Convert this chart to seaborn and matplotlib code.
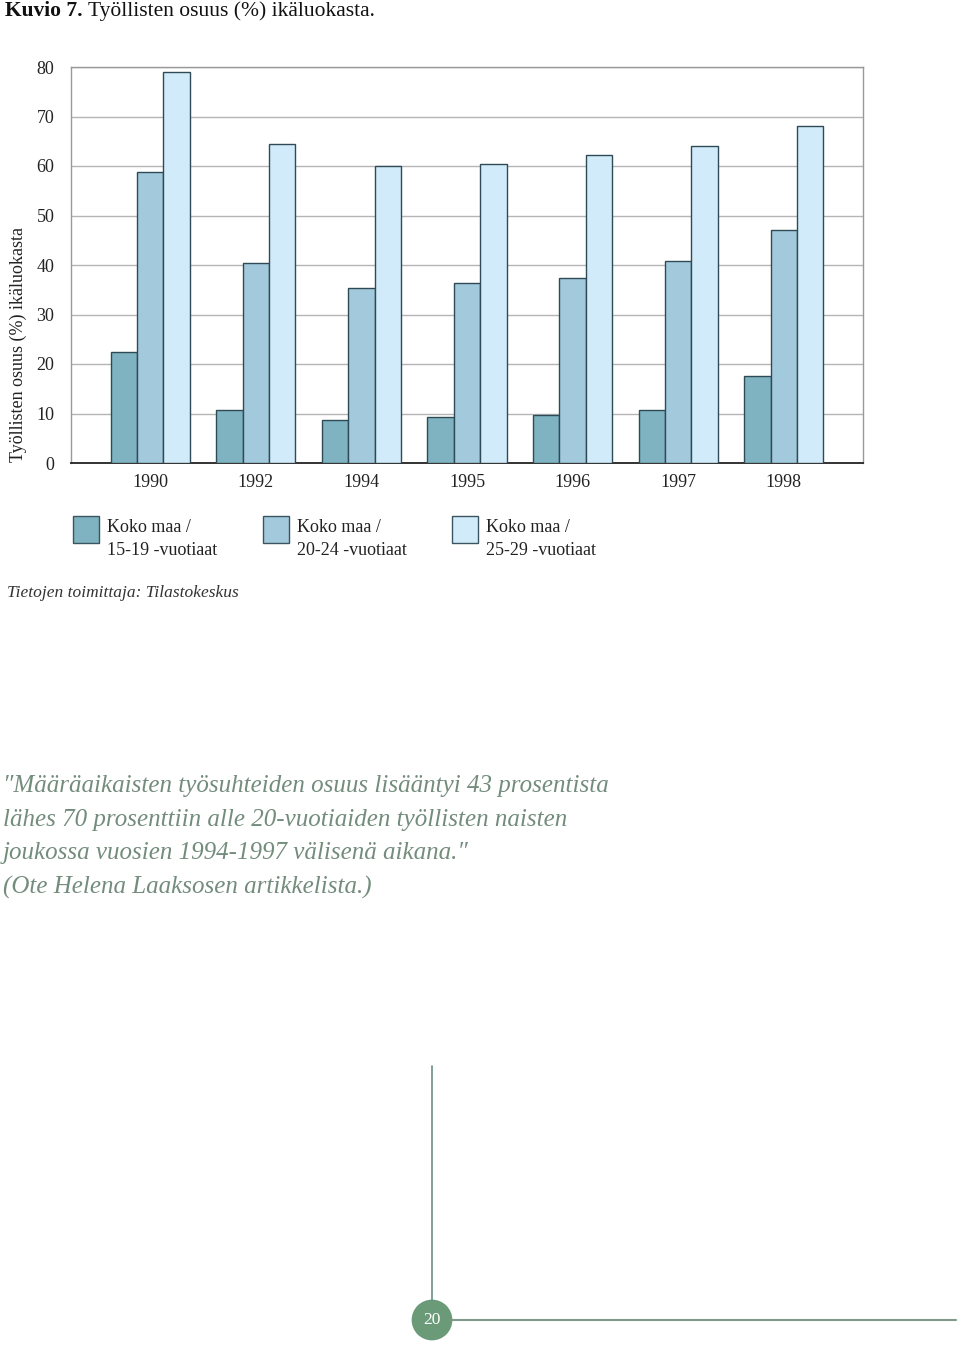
import matplotlib
matplotlib.use("Agg")
import matplotlib.pyplot as plt
import seaborn as sns
import pandas as pd
from matplotlib.patches import Rectangle, Circle
from matplotlib.lines import Line2D

years = ["1990", "1992", "1994", "1995", "1996", "1997", "1998"]
groups = ["Koko maa /\n15-19 -vuotiaat", "Koko maa /\n20-24 -vuotiaat", "Koko maa /\n25-29 -vuotiaat"]
age_15_19 = [22.5, 10.8, 8.6, 9.3, 9.7, 10.7, 17.5]
age_20_24 = [58.7, 40.5, 35.4, 36.4, 37.4, 40.8, 47.0]
age_25_29 = [78.9, 64.4, 59.9, 60.5, 62.2, 64.1, 68.0]
colors = ["#7fb3c1", "#a3c9dc", "#d1ebfa"]

rows = []
for g, vals in zip(groups, [age_15_19, age_20_24, age_25_29]):
    for y, v in zip(years, vals):
        rows.append({"year": y, "group": g, "value": v})
df = pd.DataFrame(rows)

sns.set_theme(style="white")
plt.rcParams["font.family"] = ["Liberation Serif", "DejaVu Serif"]

W, H = 960, 1346
fig = plt.figure(figsize=(9.6, 13.46), dpi=100)
ax = fig.add_axes([71 / W, 1 - 463 / H, (863 - 71) / W, (463 - 67) / H])

sns.barplot(data=df, x="year", y="value", hue="group", palette=colors,
            width=0.75, edgecolor="#2e4a55", linewidth=1.0, ax=ax,
            legend=False, saturation=1, zorder=3)

ax.set_xlim(-0.75, 6.75)
ax.set_ylim(0, 80)
ax.set_yticks(range(0, 81, 10))
ax.yaxis.grid(True, color="#b5b5b5", linewidth=1.0, zorder=0)
ax.set_axisbelow(True)
ax.set_xlabel("")
ax.set_ylabel("")
ax.tick_params(axis="y", length=0, pad=12, labelsize=13, colors="#222222")
ax.tick_params(axis="x", length=0, pad=8, labelsize=13, colors="#222222")
for s in ["top", "right", "left"]:
    ax.spines[s].set_color("#999999")
    ax.spines[s].set_linewidth(1.0)
ax.spines["bottom"].set_color("#222222")
ax.spines["bottom"].set_linewidth(1.3)

# Title
fig.text(5 / W, 1 - 11 / H, "Kuvio 7.", fontsize=15.5, fontweight="bold",
         va="center", ha="left", color="#111111")
fig.text(88 / W, 1 - 11 / H, "Työllisten osuus (%) ikäluokasta.", fontsize=15.5,
         va="center", ha="left", color="#111111")

# y label
fig.text(18 / W, 1 - 344 / H, "Työllisten osuus (%) ikäluokasta", rotation=90,
         fontsize=13, va="center", ha="center", color="#222222")

# Legend
leg_x = [73, 263, 452]
for x0, c, g in zip(leg_x, colors, groups):
    fig.patches.append(Rectangle((x0 / W, 1 - 543 / H), 26 / W, 27 / H,
                                 transform=fig.transFigure, facecolor=c,
                                 edgecolor="#3a5560", linewidth=1.0))
    fig.text((x0 + 34) / W, 1 - 539 / H, g, fontsize=13, va="center",
             ha="left", linespacing=1.45, color="#222222")

# Source
fig.text(7 / W, 1 - 593 / H, "Tietojen toimittaja: Tilastokeskus", fontsize=12.5,
         style="italic", va="center", ha="left", color="#333333")

# Quote
quote = ["\u2033Määräaikaisten työsuhteiden osuus lisääntyi 43 prosentista",
         "lähes 70 prosenttiin alle 20-vuotiaiden työllisten naisten",
         "joukossa vuosien 1994-1997 välisenä aikana.\u2033",
         "(Ote Helena Laaksosen artikkelista.)"]
for i, line in enumerate(quote):
    fig.text(3 / W, 1 - (786 + 33.7 * i) / H, line, fontsize=18, style="italic",
             va="center", ha="left", color="#738c7c")

# Page decoration
green = "#6a9a78"
fig.lines.append(Line2D([432 / W, 432 / W], [1 - 1066 / H, 1 - 1300 / H],
                        transform=fig.transFigure, color="#6a8f85", linewidth=1.2))
fig.lines.append(Line2D([452 / W, 956 / W], [1 - 1320 / H, 1 - 1320 / H],
                        transform=fig.transFigure, color="#7f9a8a", linewidth=1.5))
circ_ax = fig.add_axes([(432 - 21) / W, 1 - 1341 / H, 42 / W, 42 / H])
circ_ax.set_xlim(-1, 1)
circ_ax.set_ylim(-1, 1)
circ_ax.set_aspect("equal")
circ_ax.axis("off")
circ_ax.add_patch(Circle((0, 0), 0.97, facecolor=green, edgecolor="none"))
circ_ax.text(0, -0.02, "20", color="white", fontsize=12.5, ha="center", va="center")

fig.savefig("out.png", dpi=100)
